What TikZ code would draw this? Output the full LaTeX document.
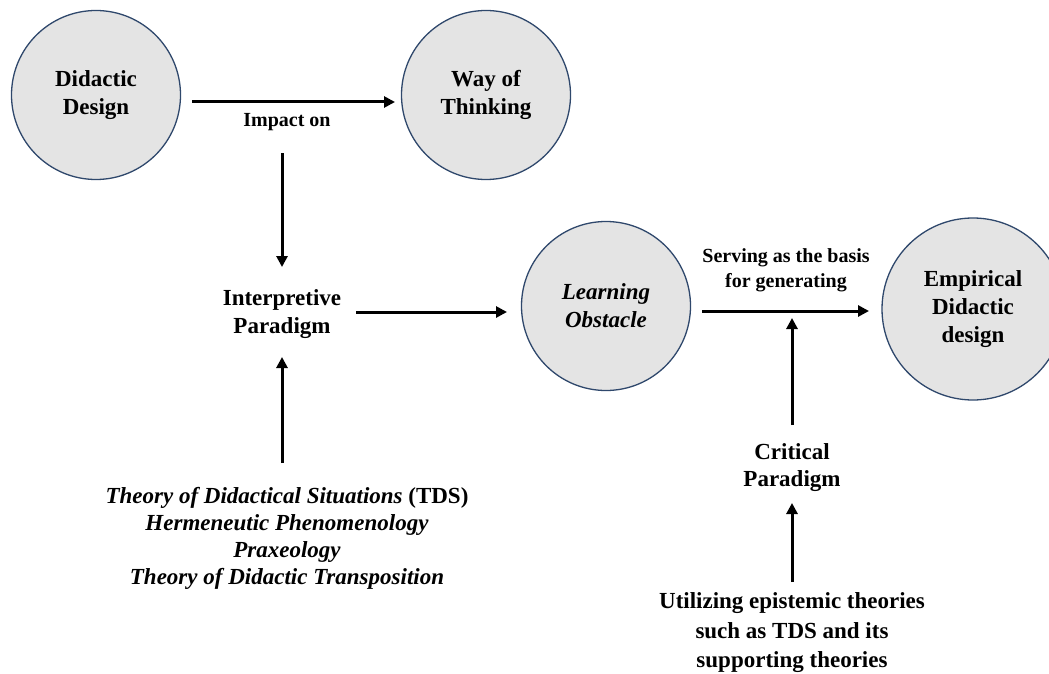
\documentclass[tikz,border=0pt]{standalone}
\usepackage{fontspec}
\setmainfont{Liberation Serif}
\usetikzlibrary{arrows.meta,calc}
\definecolor{ringblue}{RGB}{47,72,108}
\definecolor{discgray}{RGB}{228,228,228}
\begin{document}
\begin{tikzpicture}[x=1pt,y=-1pt,
  disc/.style={circle,draw=ringblue,line width=1.3pt,fill=discgray,
    minimum size=169pt,inner sep=0pt,align=center,
    font=\fontsize{23}{28}\selectfont\bfseries},
  lbl/.style={align=center,inner sep=0pt,
    font=\fontsize{23}{28}\selectfont\bfseries},
  small/.style={align=center,inner sep=0pt,
    font=\fontsize{20}{25}\selectfont\bfseries},
  arr/.style={line width=3pt,-{Triangle[length=11pt,width=11pt]}}]
\useasboundingbox (0,0) rectangle (1049,674);

% circles
\node[disc] (dd) at (96,95) {Didactic\\Design};
\node[disc] (wt) at (486,95) {Way of\\Thinking};
\node[disc] (lo) at (606,306) {\itshape Learning\\\itshape Obstacle};
\node[disc,minimum size=182pt] (ed) at (973,309) {Empirical\\Didactic\\design};

% text blocks
\node[small] (im) at (287,122) {Impact on};
\node[lbl] (ip) at (282,314) {Interpretive\\Paradigm};
\node[lbl,font=\fontsize{23}{27}\selectfont\bfseries] (th) at (287,538)
  {\textit{Theory of Didactical Situations} (TDS)\\
   \textit{Hermeneutic Phenomenology}\\
   \textit{Praxeology}\\
   \textit{Theory of Didactic Transposition}};
\node[small] (sb) at (786,270) {Serving as the basis\\for generating};
\node[lbl,font=\fontsize{23}{27}\selectfont\bfseries] (cp) at (792,468) {Critical\\Paradigm};
\node[lbl,font=\fontsize{23}{29.5}\selectfont\bfseries] (ut) at (792,633)
  {Utilizing epistemic theories\\such as TDS and its\\supporting theories};

% connectors
\draw[arr] ($(dd)+(96,7)$) -- ($(wt)+(-91,7)$);
\draw[arr] ($(im)+(-5,31)$) -- ($(ip)+(0,-47)$);
\draw[arr] ($(th)+(-5,-75)$) -- ($(ip)+(0,43)$);
\draw[arr] ($(ip)+(74,-2)$) -- ($(lo)+(-99,6)$);
\draw[arr] ($(lo)+(96,5)$) -- ($(ed)+(-104,2)$);
\coordinate (join) at ($(cp)+(0,-150)$);
\draw[arr] ($(cp)+(0,-43)$) -- (join);
\draw[arr] ($(ut)+(0,-51)$) -- ($(cp)+(0,35)$);
\end{tikzpicture}
\end{document}
